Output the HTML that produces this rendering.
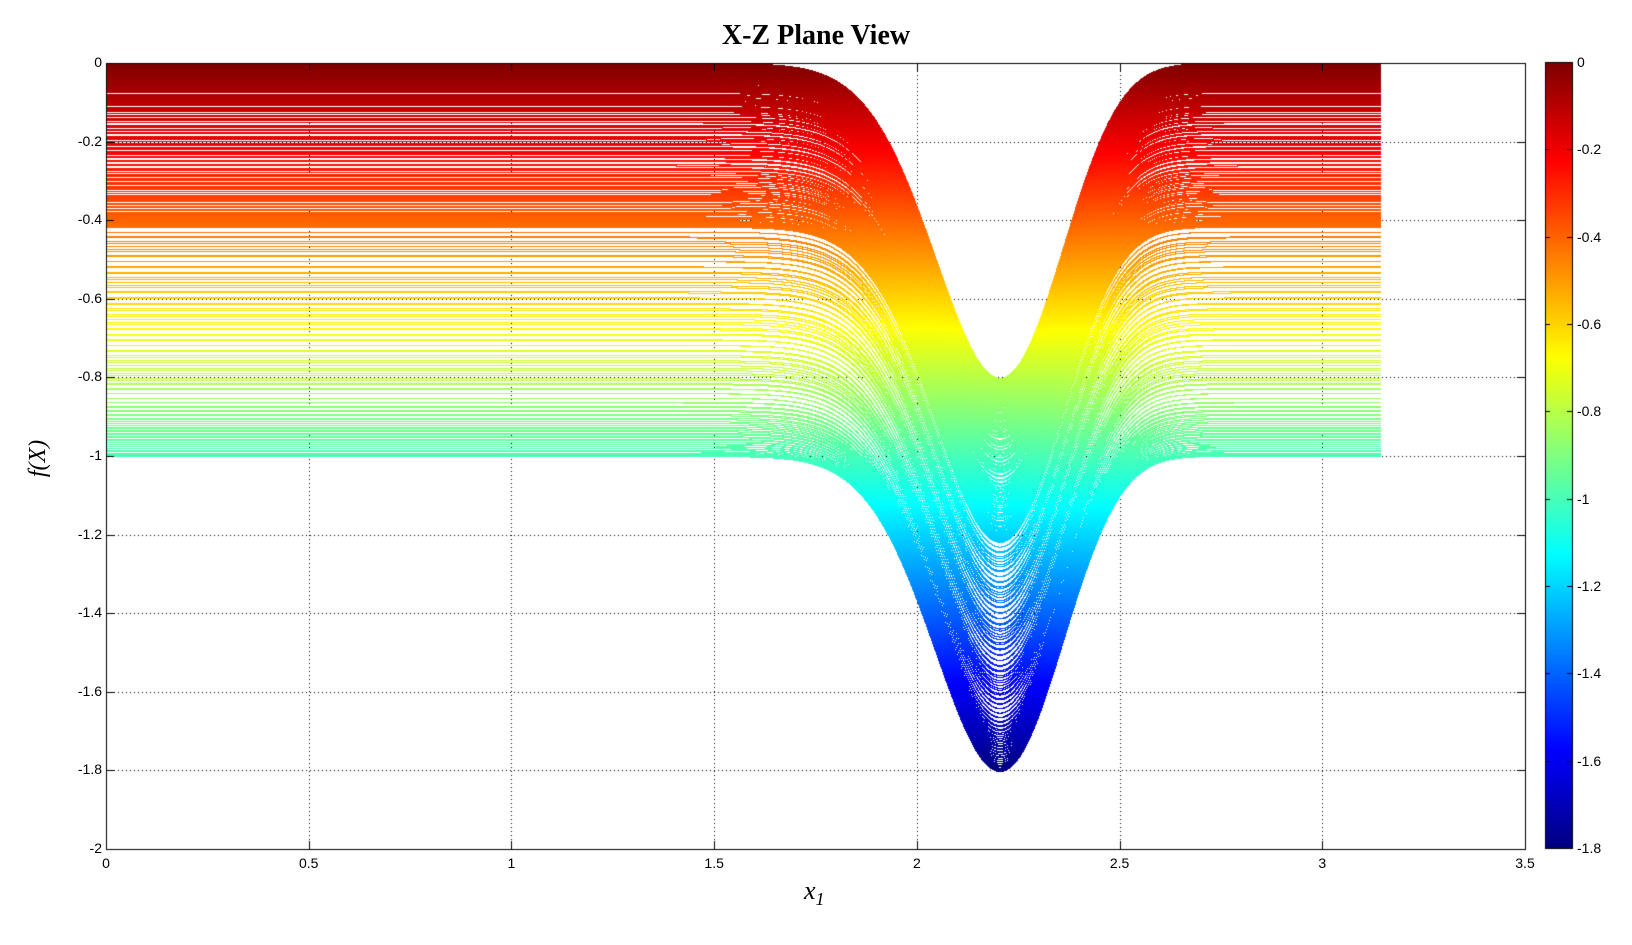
<!DOCTYPE html>
<html><head><meta charset="utf-8"><style>
html,body{margin:0;padding:0;background:#fff;width:1632px;height:945px;overflow:hidden;position:relative;font-family:"Liberation Sans",sans-serif}
.t{position:absolute;font-size:14px;color:#000;white-space:nowrap}
canvas{position:absolute;left:0;top:0}
</style></head><body>
<canvas id="c" width="1632" height="945"></canvas>
<div class="t" style="left:0;width:1632px;text-align:center;top:20px;font-family:'Liberation Serif',serif;font-weight:bold;font-size:28px">X-Z Plane View</div>
<div class="t" style="left:804px;top:876px;font-family:'Liberation Serif',serif;font-style:italic;font-size:26px">x<sub style="font-size:18px">1</sub></div>
<div class="t" style="left:20px;top:445px;font-family:'Liberation Serif',serif;font-style:italic;font-size:24px;transform:rotate(-90deg);transform-origin:center">f(X)</div>
<div id="labels"></div>
<script>
const c=document.getElementById('c'),g=c.getContext('2d');
const L=106,R=1525,T=63,B=849;
const X=v=>L+v*(R-L)/3.5, Y=v=>T+(-v)*(B-T)/2;
function jetA(t){
 const r=Math.min(Math.max(Math.min(4*t-1.5,-4*t+4.5),0),1);
 const gg=Math.min(Math.max(Math.min(4*t-0.5,-4*t+3.5),0),1);
 const b=Math.min(Math.max(Math.min(4*t+0.5,-4*t+2.5),0),1);
 return [Math.round(r*255),Math.round(gg*255),Math.round(b*255)];}
const colA=v=>jetA(Math.min(Math.max((v+1.8)/1.8,0),1));
const col=v=>{const a=colA(v);return 'rgb('+a[0]+','+a[1]+','+a[2]+')';};
g.fillStyle='#fff';g.fillRect(0,0,1632,945);
g.strokeStyle='#000';g.lineWidth=1;g.setLineDash([1,3]);
for(let i=1;i<7;i++){const x=Math.round(X(i*0.5))+0.5;g.beginPath();g.moveTo(x,T);g.lineTo(x,B);g.stroke();}
for(let i=1;i<10;i++){const y=Math.round(Y(-i*0.2))+0.5;g.beginPath();g.moveTo(L,y);g.lineTo(R,y);g.stroke();}
g.setLineDash([]);
const P=Math.PI;
const h=x=>-Math.sin(x)*Math.pow(Math.sin(x*x/P),20);
const k=x=>-Math.sin(x)*Math.pow(Math.sin(2*x*x/P),20);
const img=g.getImageData(0,0,1632,945),d=img.data;
const x0=L,x1e=Math.round(X(P));
const hv=[];for(let px=x0;px<=x1e;px++){hv.push(h((px-L)*3.5/(R-L)));}
function put(px,py,cc){const i=(py*1632+px)*4;d[i]=cc[0];d[i+1]=cc[1];d[i+2]=cc[2];d[i+3]=255;}
const N=1200;
for(let j=0;j<N;j++){const o=k(P*j/(N-1));
 let py=null;
 for(let q=0;q<hv.length;q++){const v=hv[q]+o;const y=Math.round(Y(v));const cc=colA(v);const px=x0+q;
  if(py===null){put(px,y,cc);}else{const a=Math.min(py,y),b=Math.max(py,y);
   for(let yy=a;yy<=b;yy++)put(px,yy,cc);}
  py=y;}}
g.putImageData(img,0,0);
g.strokeStyle='#000';g.lineWidth=1;g.strokeRect(L+0.5,T+0.5,R-L,B-T);
for(let i=0;i<=7;i++){const x=Math.round(X(i*0.5))+0.5;g.beginPath();g.moveTo(x,B);g.lineTo(x,B-8);g.moveTo(x,T);g.lineTo(x,T+8);g.stroke();}
for(let i=0;i<=10;i++){const y=Math.round(Y(-i*0.2))+0.5;g.beginPath();g.moveTo(L,y);g.lineTo(L+8,y);g.moveTo(R,y);g.lineTo(R-8,y);g.stroke();}
const CL=1545,CR=1572,CT=62,CB=848;
for(let y=CT;y<CB;y++){const v=-1.8*(y-CT)/(CB-CT);g.fillStyle=col(v);g.fillRect(CL,y,CR-CL,1);}
g.strokeRect(CL+0.5,CT+0.5,CR-CL,CB-CT);
let html='';
for(let i=0;i<=9;i++){const v=-i*0.2;const y=Math.round(CT+(CB-CT)*i/9)+0.5;
 g.beginPath();g.moveTo(CL,y);g.lineTo(CL+5,y);g.moveTo(CR,y);g.lineTo(CR-5,y);g.stroke();
 html+=`<div class="t" style="left:1577px;top:${y-9}px">${i==0?'0':(i%5==0?'-'+(i/5):v.toFixed(1))}</div>`;}
const xl=['0','0.5','1','1.5','2','2.5','3','3.5'];
xl.forEach((s,i)=>{html+=`<div class="t" style="left:${X(i*0.5)-20}px;width:40px;text-align:center;top:855px">${s}</div>`;});
for(let i=0;i<=10;i++){const s=i==0?'0':(i%5==0?'-'+(i/5):'-'+(i*0.2).toFixed(1));
 html+=`<div class="t" style="left:50px;width:52px;text-align:right;top:${Y(-i*0.2)-9}px">${s}</div>`;}
document.getElementById('labels').innerHTML=html;
</script>
</body></html>
